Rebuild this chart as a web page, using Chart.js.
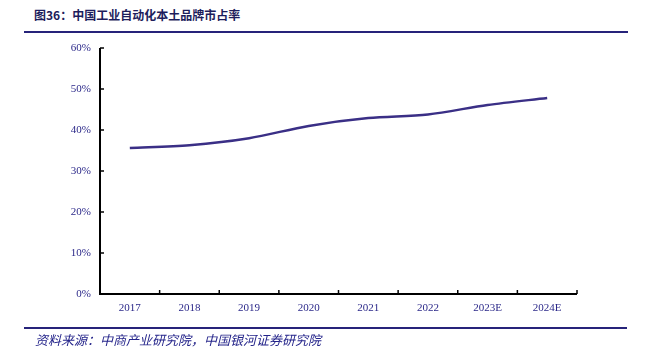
<!DOCTYPE html>
<html>
<head>
<meta charset="utf-8">
<script src="https://cdn.jsdelivr.net/npm/chart.js@4.4.1/dist/chart.umd.min.js"></script>
<style>
  body { margin: 0; background: #fff; width: 646px; height: 353px; position: relative; overflow: hidden; }
  #title { position: absolute; left: 34px; top: 6px; font: bold 12px "Noto Sans CJK SC", sans-serif; color: #1d1d5c; }
  #topline { position: absolute; left: 24px; top: 31px; width: 604px; height: 2px; background: #26237a; }
  #botline { position: absolute; left: 24px; top: 327px; width: 603px; height: 2px; background: #26237a; }
  #source { position: absolute; left: 35px; top: 330px; font: italic 13px "Noto Sans CJK SC", serif; color: #24248a; }
  #stage { position: absolute; left: 0; top: 0; }
</style>
</head>
<body>
<div id="title">图36：中国工业自动化本土品牌市占率</div>
<div id="topline"></div>
<canvas id="stage"></canvas>
<div id="botline"></div>
<div id="source">资料来源：中商产业研究院，中国银河证券研究院</div>
<script>
var years = ['2017', '2018', '2019', '2020', '2021', '2022', '2023E', '2024E'];
var share = [35.6, 36.3, 38.0, 41.0, 42.9, 43.8, 46.1, 47.8]; // 本土品牌市占率(%)
var yTicks = [0, 10, 20, 30, 40, 50, 60];

var textColor = '#2b2889';

// 内向きの目盛り線を描く
var innerTicks = {
  id: 'innerTicks',
  afterDraw: function(chart) {
    var ctx = chart.ctx;
    var x = chart.scales.x, y = chart.scales.y;
    ctx.save();
    ctx.strokeStyle = '#000';
    ctx.lineWidth = 1.5;
    var step = x.getPixelForValue(1) - x.getPixelForValue(0);
    for (var i = 0; i <= years.length; i++) {
      var px = x.getPixelForValue(i) - step / 2;
      ctx.beginPath();
      ctx.moveTo(px, y.bottom);
      ctx.lineTo(px, y.bottom - 4);
      ctx.stroke();
    }
    yTicks.forEach(function(v) {
      var py = y.getPixelForValue(v);
      ctx.beginPath();
      ctx.moveTo(x.left, py);
      ctx.lineTo(x.left + 4, py);
      ctx.stroke();
    });
    ctx.lineWidth = 2;
    ctx.beginPath();
    ctx.moveTo(x.left, y.top);
    ctx.lineTo(x.left, y.bottom);
    ctx.lineTo(x.right, y.bottom);
    ctx.stroke();
    ctx.restore();
  }
};

var canvas = document.getElementById('stage');
canvas.style.width = '646px';
canvas.style.height = '353px';

new Chart(canvas.getContext('2d'), {
  type: 'line',
  data: {
    labels: years,
    datasets: [{
      data: share,
      borderColor: '#3a2f86',
      borderWidth: 2.5,
      pointRadius: 0,
      tension: 0.3,
      fill: false
    }]
  },
  options: {
    responsive: false,
    animation: false,
    layout: { padding: { left: 40, right: 69, top: 48, bottom: 0 } },
    plugins: { legend: { display: false }, tooltip: { enabled: false } },
    scales: {
      x: {
        offset: true,
        grid: { display: false, drawTicks: false },
        border: { display: false },
        ticks: { color: textColor, font: { family: 'Liberation Serif', size: 11 }, padding: 8, maxRotation: 0 },
        afterFit: function(s) { s.height = 59; }
      },
      y: {
        min: 0, max: 60,
        grid: { display: false, drawTicks: false },
        border: { display: false },
        afterBuildTicks: function(s) { s.ticks = yTicks.map(function(v) { return { value: v }; }); },
        ticks: {
          color: textColor,
          font: { family: 'Liberation Serif', size: 11 },
          padding: 9,
          callback: function(v) { return v + '%'; }
        },
        afterFit: function(s) { s.width = 60; }
      }
    }
  },
  plugins: [innerTicks]
});
</script>
</body>
</html>
